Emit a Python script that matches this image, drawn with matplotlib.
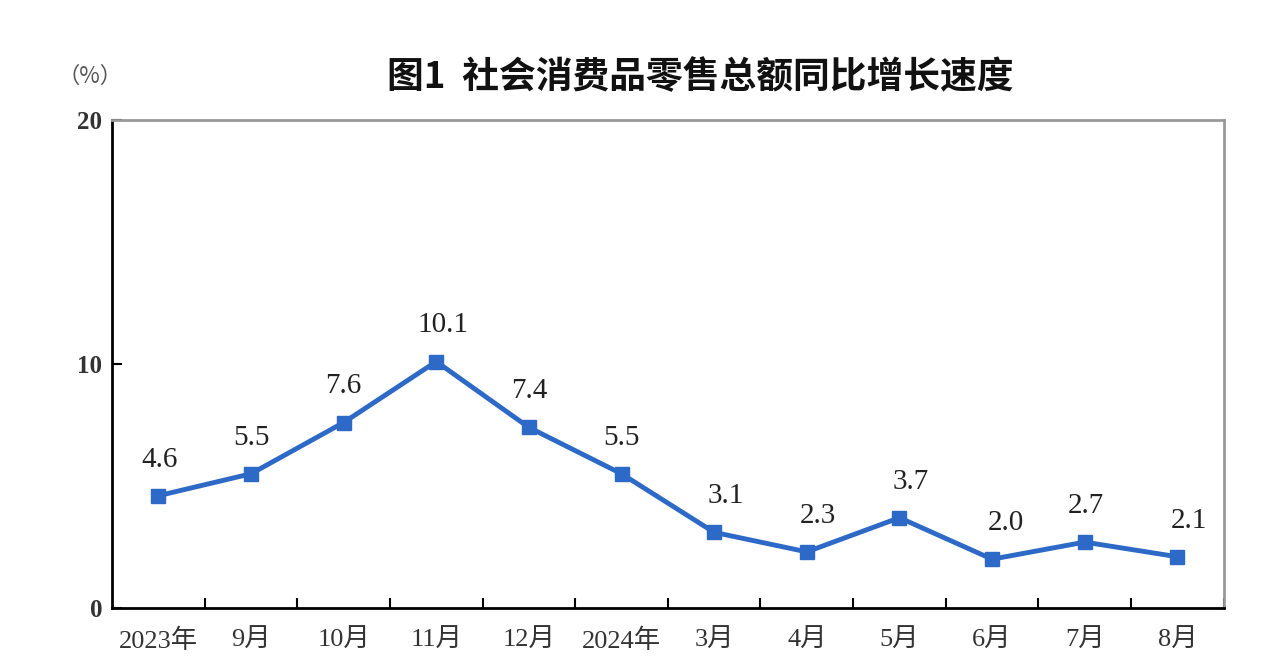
import matplotlib
matplotlib.use('Agg')
import matplotlib.pyplot as plt

plt.rcParams['font.family'] = ['Liberation Serif', 'Noto Sans CJK SC']

months = ['2023年', '9月', '10月', '11月', '12月', '2024年', '3月', '4月', '5月', '6月', '7月', '8月']
growth = [4.6, 5.5, 7.6, 10.1, 7.4, 5.5, 3.1, 2.3, 3.7, 2.0, 2.7, 2.1]
yticks = [0, 10, 20]

line_color = '#2d69c6'
# small sideways nudges of the value labels (points), as in the original layout
label_nudge = [1, 0, 0, 5, 0, 0, 8, 8, 8, 10, 1, 8]

fig = plt.figure(figsize=(12.8, 6.62), dpi=100)
ax = fig.add_axes([0.0875, 0.0816, 0.8685, 0.7371])

x = list(range(len(months)))
ax.plot(x, growth, color=line_color, linewidth=3.5, marker='s', markersize=9.5,
        markerfacecolor=line_color, markeredgecolor=line_color, zorder=3)

for xi, v, dx in zip(x, growth, label_nudge):
    ax.annotate('%.1f' % v, (xi, v), xytext=(dx, 26), textcoords='offset points',
                ha='center', va='center', fontsize=21, color='#222222')

ax.set_xlim(-0.5, len(months) - 0.5)
ax.set_ylim(0, 20)
ax.set_yticks(yticks)
ax.set_yticklabels([str(t) for t in yticks], fontsize=18, color='#333333', fontweight='bold')
ax.set_xticks(x)
ax.set_xticklabels(months, fontsize=19, color='#333333')
ax.tick_params(axis='x', which='major', length=0, pad=15)
ax.set_xticks([i + 0.5 for i in x[:-1]] + [len(months) - 0.5], minor=True)
ax.tick_params(axis='x', which='minor', direction='in', length=7, width=1.5, color='black')
ax.tick_params(axis='y', direction='in', length=7, width=1.5, pad=7)

ax.spines['left'].set_color('black')
ax.spines['left'].set_linewidth(2)
ax.spines['bottom'].set_color('black')
ax.spines['bottom'].set_linewidth(2)
ax.spines['top'].set_color('#999999')
ax.spines['top'].set_linewidth(2)
ax.spines['right'].set_color('#999999')
ax.spines['right'].set_linewidth(2)

fig.text(0.547, 0.882, '图1  社会消费品零售总额同比增长速度', ha='center', va='center',
         fontsize=26.5, fontweight='bold', family=['Noto Sans CJK SC'], color='#111111')
fig.text(0.07, 0.884, '（%）', ha='center', va='center', fontsize=16,
         family=['Noto Sans CJK SC'], color='#555555')

fig.savefig('out.png', dpi=100)
